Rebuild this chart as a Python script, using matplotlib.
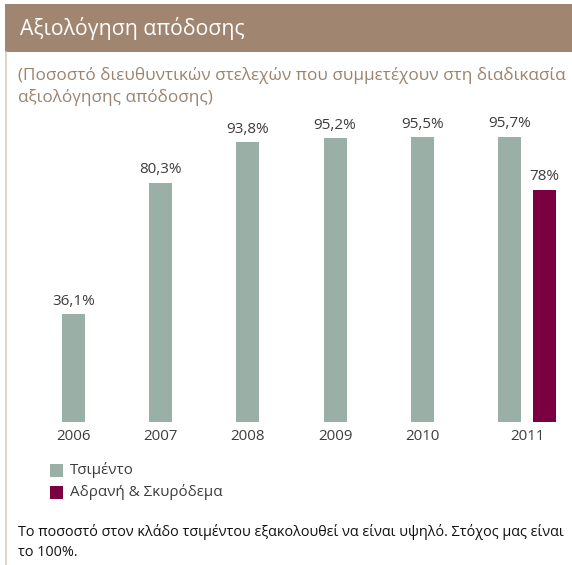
import matplotlib
matplotlib.use("Agg")
import matplotlib.pyplot as plt
from matplotlib.patches import Rectangle

years = ["2006", "2007", "2008", "2009", "2010", "2011"]
cement = [36.1, 80.3, 93.8, 95.2, 95.5, 95.7]
cement_labels = ["36,1%", "80,3%", "93,8%", "95,2%", "95,5%", "95,7%"]
aggregates_2011 = 78
aggregates_label = "78%"
legend_names = ["Τσιμέντο", "Αδρανή & Σκυρόδεμα"]
title = "Αξιολόγηση απόδοσης"
subtitle = ["(Ποσοστό διευθυντικών στελεχών που συμμετέχουν στη διαδικασία",
            "αξιολόγησης απόδοσης)"]
footnote = ["Το ποσοστό στον κλάδο τσιμέντου εξακολουθεί να είναι υψηλό. Στόχος μας είναι",
            "το 100%."]

C_CEM = "#9aafa5"
C_AGG = "#7b0041"
C_HEAD = "#a08670"
C_SUB = "#9a8470"
C_TXT = "#3c3c3c"

plt.rcParams['font.family'] = ['Open Sans', 'DejaVu Sans']

W, H = 572, 565
fig = plt.figure(figsize=(W / 100, H / 100), dpi=100)
fig.patch.set_facecolor("white")

def fx(px):
    return px / W

def fy(py):
    return 1 - py / H

# header band
fig.patches.append(Rectangle((fx(5), fy(52)), fx(567), 48 / H, transform=fig.transFigure,
                             facecolor=C_HEAD, edgecolor="none"))
# left border line
fig.add_artist(plt.Line2D([fx(5.5), fx(5.5)], [fy(52), fy(565)], transform=fig.transFigure,
                          color="#dccbbd", lw=1.2))
fig.text(fx(20), fy(29), title, color="white", fontsize=15.3, va="center", ha="left")
fig.text(fx(18), fy(75), subtitle[0], color=C_SUB, fontsize=12.3, va="center", ha="left")
fig.text(fx(18), fy(97), subtitle[1], color=C_SUB, fontsize=12.3, va="center", ha="left")

# axes: baseline at y=422px, top at 100px
unit = 87.2
x0 = 73.5
ax = fig.add_axes([0, fy(422), 1, (422 - 100) / H])
ax.set_xlim(-x0 / unit, (W - x0) / unit)
ax.set_ylim(0, (422 - 100) / 2.98)
ax.axis("off")

bw = 23 / unit
off = 35 / unit
xs = list(range(len(years)))
ax.bar(xs, cement, width=bw, color=C_CEM, align="center")
ax.bar([xs[-1] + off], [aggregates_2011], width=bw, color=C_AGG, align="center")

for x, v, lab in zip(xs, cement, cement_labels):
    ax.annotate(lab, (x, v), xytext=(0, 4), textcoords="offset points",
                ha="center", va="bottom", fontsize=11, color=C_TXT)
ax.annotate(aggregates_label, (xs[-1] + off, aggregates_2011), xytext=(0, 4),
            textcoords="offset points", ha="center", va="bottom", fontsize=11, color=C_TXT)

for i, y in enumerate(years):
    xp = xs[i] + (off / 2 if i == len(years) - 1 else 0)
    ax.annotate(y, (xp, 0), xytext=(0, -5), textcoords="offset points",
                ha="center", va="top", fontsize=10.8, color=C_TXT)

# legend
for i, (name, c) in enumerate(zip(legend_names, [C_CEM, C_AGG])):
    yc = 470 + i * 22
    fig.patches.append(Rectangle((fx(50), fy(yc + 6.5)), fx(13), 13 / H,
                                 transform=fig.transFigure, facecolor=c, edgecolor="none"))
    fig.text(fx(70), fy(yc), name, fontsize=10.9, color=C_TXT, va="center", ha="left")

fig.text(fx(18), fy(532), footnote[0], fontsize=10.4, color="#111111", va="center", ha="left")
fig.text(fx(18), fy(553), footnote[1], fontsize=10.4, color="#111111", va="center", ha="left")

fig.savefig("out.png", dpi=100)
